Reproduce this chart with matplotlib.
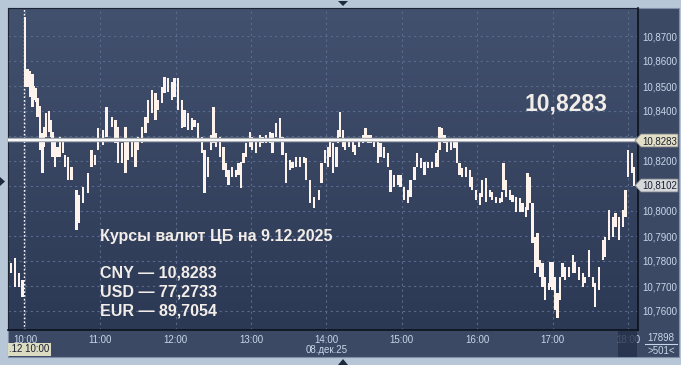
import matplotlib
matplotlib.use("Agg")
import matplotlib.pyplot as plt
import numpy as np
from matplotlib.patches import Rectangle, Polygon
from matplotlib.lines import Line2D
from matplotlib.colors import LinearSegmentedColormap

plt.rcParams['font.family'] = ['Liberation Sans', 'DejaVu Sans']

# ---------------- data (minutes after 10:00, 1-min candles) ----------------
minutes = [-11, -8, -5, -2,
           0, 2, 4, 6, 7, 9, 10, 12, 14, 15, 17, 19, 21, 22, 24, 26, 28, 30, 32, 34, 37, 41, 43, 46, 50, 53, 56, 58,
           62, 65, 69, 72, 74, 77, 80, 82, 85, 88, 90, 93, 96, 98, 101, 104, 106, 109, 111, 114, 117, 119,
           122, 125, 127, 130, 133, 135, 138, 141, 143, 146, 148, 150, 152, 155, 158, 160, 162, 165, 168, 170, 172, 174, 176, 179,
           181, 184, 187, 189, 192, 195, 197, 200, 203, 205, 208, 211, 213, 216, 219, 222, 224, 227, 230, 234, 236, 239,
           241, 243, 245, 248, 249, 251, 253, 255, 258, 261, 263, 266, 269, 271, 273, 275, 278, 281, 283, 286, 289, 291, 294, 297, 299,
           302, 305, 307, 310, 312, 315, 318, 321, 324, 327, 329, 330, 332, 334, 336, 339, 342, 344, 346, 348, 351, 354, 356, 359,
           362, 364, 367, 370, 372, 375, 378, 380, 381, 383, 386, 388, 391, 394, 396, 399, 400, 402, 404, 406, 408, 410, 412, 414, 417, 418,
           420, 422, 424, 426, 428, 430, 433, 436, 438, 441, 444, 446, 449, 452, 454, 457, 460, 462, 465, 468, 470, 473, 476, 478,
           480, 483, 485]

highs = [10.7792, 10.7812, 10.7752, 10.7724,
         10.8776, 10.8568, 10.8560, 10.8548, 10.8500, 10.8492, 10.8452, 10.8420, 10.8312, 10.8336, 10.8392, 10.8400, 10.8364, 10.8316, 10.8276, 10.8256, 10.8296, 10.8292, 10.8224, 10.8216, 10.8176, 10.8084, 10.8064, 10.8096, 10.8152, 10.8244, 10.8224, 10.8332,
         10.8324, 10.8416, 10.8376, 10.8364, 10.8336, 10.8272, 10.8336, 10.8276, 10.8292, 10.8284, 10.8296, 10.8336, 10.8376, 10.8444, 10.8484, 10.8472, 10.8444, 10.8496, 10.8536, 10.8532, 10.8516, 10.8532,
         10.8532, 10.8444, 10.8404, 10.8392, 10.8372, 10.8364, 10.8352, 10.8296, 10.8244, 10.8216, 10.8304, 10.8416, 10.8312, 10.8296, 10.8256, 10.8192, 10.8164, 10.8176, 10.8164, 10.8192, 10.8196, 10.8232, 10.8272, 10.8316,
         10.8296, 10.8276, 10.8304, 10.8296, 10.8304, 10.8316, 10.8312, 10.8352, 10.8372, 10.8296, 10.8232, 10.8204, 10.8196, 10.8216, 10.8216, 10.8216, 10.8212, 10.8124, 10.8056, 10.8084, 10.8192, 10.8244,
         10.8256, 10.8276, 10.8272, 10.8256, 10.8324, 10.8396, 10.8324, 10.8284, 10.8292, 10.8276, 10.8264, 10.8284, 10.8304, 10.8332, 10.8304, 10.8304, 10.8292, 10.8276, 10.8272, 10.8256, 10.8232, 10.8164, 10.8144, 10.8144, 10.8144,
         10.8096, 10.8084, 10.8124, 10.8176, 10.8232, 10.8212, 10.8196, 10.8196, 10.8196, 10.8232, 10.8244, 10.8336, 10.8332, 10.8304, 10.8292, 10.8276, 10.8276, 10.8276, 10.8192, 10.8172, 10.8176, 10.8164, 10.8136, 10.8084,
         10.8072, 10.8124, 10.8132, 10.8084, 10.8076, 10.8056, 10.8052, 10.8076, 10.8192, 10.8124, 10.8084, 10.8064, 10.8056, 10.8052, 10.8032, 10.8016, 10.8152, 10.8136, 10.8032, 10.7896, 10.7912, 10.7804, 10.7792, 10.7736, 10.7712, 10.7796,
         10.7796, 10.7736, 10.7672, 10.7736, 10.7792, 10.7776, 10.7776, 10.7824, 10.7796, 10.7776, 10.7752, 10.7736, 10.7844, 10.7736, 10.7712, 10.7776, 10.7884, 10.7896, 10.8004, 10.7976, 10.7992, 10.7976, 10.8004, 10.8084,
         10.8244, 10.8232, 10.8176]

lows = [10.7752, 10.7696, 10.7696, 10.7656,
        10.8496, 10.8496, 10.8456, 10.8416, 10.8444, 10.8436, 10.8376, 10.8244, 10.8152, 10.8256, 10.8296, 10.8316, 10.8296, 10.8216, 10.8176, 10.8216, 10.8216, 10.8232, 10.8176, 10.8124, 10.8124, 10.7924, 10.7952, 10.8032, 10.8072, 10.8176, 10.8184, 10.8244,
        10.8264, 10.8296, 10.8336, 10.8272, 10.8192, 10.8192, 10.8152, 10.8204, 10.8216, 10.8176, 10.8244, 10.8272, 10.8312, 10.8352, 10.8392, 10.8364, 10.8404, 10.8432, 10.8472, 10.8476, 10.8444, 10.8456,
        10.8404, 10.8332, 10.8336, 10.8324, 10.8324, 10.8336, 10.8284, 10.8232, 10.8072, 10.8136, 10.8244, 10.8272, 10.8256, 10.8216, 10.8164, 10.8136, 10.8104, 10.8136, 10.8136, 10.8144, 10.8092, 10.8192, 10.8216, 10.8256,
        10.8244, 10.8232, 10.8256, 10.8272, 10.8272, 10.8272, 10.8232, 10.8296, 10.8284, 10.8224, 10.8112, 10.8164, 10.8172, 10.8176, 10.8176, 10.8192, 10.8124, 10.8032, 10.8012, 10.8044, 10.8112, 10.8192,
        10.8176, 10.8216, 10.8152, 10.8176, 10.8272, 10.8296, 10.8256, 10.8244, 10.8256, 10.8236, 10.8224, 10.8256, 10.8272, 10.8276, 10.8272, 10.8272, 10.8256, 10.8192, 10.8216, 10.8212, 10.8176, 10.8076, 10.8096, 10.8104, 10.8096,
        10.8044, 10.8032, 10.8056, 10.8124, 10.8176, 10.8172, 10.8144, 10.8172, 10.8172, 10.8176, 10.8176, 10.8244, 10.8276, 10.8272, 10.8236, 10.8244, 10.8252, 10.8192, 10.8144, 10.8136, 10.8136, 10.8096, 10.8084, 10.8044,
        10.8024, 10.8056, 10.8036, 10.8056, 10.8044, 10.8032, 10.8032, 10.8036, 10.8084, 10.8056, 10.8044, 10.8036, 10.7996, 10.7996, 10.7996, 10.7976, 10.8004, 10.8032, 10.7872, 10.7752, 10.7776, 10.7736, 10.7696, 10.7644, 10.7684, 10.7696,
        10.7684, 10.7604, 10.7572, 10.7644, 10.7736, 10.7724, 10.7736, 10.7752, 10.7752, 10.7724, 10.7696, 10.7712, 10.7736, 10.7696, 10.7616, 10.7684, 10.7804, 10.7816, 10.7884, 10.7896, 10.7936, 10.7884, 10.7936, 10.7976,
        10.8136, 10.8152, 10.8100]

price_ticks = [10.76, 10.77, 10.78, 10.79, 10.80, 10.81, 10.82, 10.83, 10.84, 10.85, 10.86, 10.87]
hidden_ticks = [10.81, 10.83]   # covered by the price tags
hour_ticks = [0, 60, 120, 180, 240, 300, 360, 420, 480]
hour_labels = ['10:00', '11:00', '12:00', '13:00', '14:00', '15:00', '16:00', '17:00', '18:00']
cb_rate = 10.8283
last_price = 10.8102
title_text = 'Курсы валют ЦБ на 9.12.2025'
rates_text = ['CNY — 10,8283', 'USD — 77,2733', 'EUR — 89,7054']

# ---------------- figure ----------------
W, H = 681, 365
fig = plt.figure(figsize=(W / 100, H / 100), dpi=100)
fig.patch.set_facecolor('#b8c7d7')


def fx(x):
    return x / W


def fy(y):
    return 1 - y / H


# panel background (axis strips)
fig.add_artist(Rectangle((fx(8), fy(357)), (679 - 8) / W, (357 - 8) / H, transform=fig.transFigure,
                         facecolor='#3c4965', edgecolor='#7f8fa8', lw=0.8, zorder=-1))

ax = fig.add_axes([fx(8), fy(330), 630 / W, 322 / H])
ax.set_zorder(1)
cmap = LinearSegmentedColormap.from_list('bg', ['#2c3955', '#42516e'])
ax.imshow(np.linspace(0, 1, 256).reshape(-1, 1), extent=[0, 1, 0, 1], transform=ax.transAxes,
          cmap=cmap, aspect='auto', origin='lower', zorder=0)

ax.set_xlim(-13.5, 488)
ax.set_ylim(10.7524, 10.8812)

ax.set_yticks(price_ticks)
ax.set_yticklabels(['' if any(abs(v - h) < 1e-9 for h in hidden_ticks) else f'{v:.4f}'.replace('.', ',')
                    for v in price_ticks])
ax.set_xticks(hour_ticks)
ax.set_xticklabels(hour_labels)
ax.yaxis.tick_right()
ax.tick_params(axis='y', length=0, pad=3, labelsize=7, labelcolor='#c9d5e8')
ax.tick_params(axis='x', length=0, pad=3.5, labelsize=7, labelcolor='#c9d5e8')
ax.grid(True, color='#5b6b8e', linestyle=(0, (2, 3)), linewidth=0.8, zorder=1)
ax.set_axisbelow(True)

for s in ['top', 'left']:
    ax.spines[s].set_color('#1c2436')
for s in ['right', 'bottom']:
    ax.spines[s].set_color('#0c121c')
    ax.spines[s].set_linewidth(1.2)

# day separator
ax.axvline(-1, color='white', linestyle=(0, (1.2, 1.5)), lw=1, zorder=2)

mins = np.array(minutes, dtype=float)
hi = np.array(highs)
lo = np.array(lows)
ax.bar(mins, hi - lo, bottom=lo, width=1.8, color='#fdf2ec', linewidth=0, zorder=3)

ax.axhline(cb_rate, color='#a9aeb5', lw=3.2, zorder=4)
ax.axhline(cb_rate, color='#f8f8f8', lw=1.5, zorder=5)

# ---------------- texts ----------------
txt = '#f2ede8'
fig.text(fx(566), fy(104), f'{cb_rate:.4f}'.replace('.', ','), ha='center', va='center',
         fontsize=16.5, fontweight='bold', color=txt, zorder=6)
fig.text(fx(100), fy(237), title_text, ha='left', va='center', fontsize=11.5, fontweight='bold', color=txt, zorder=6)
for i, t in enumerate(rates_text):
    fig.text(fx(100), fy(273 + 19 * i), t, ha='left', va='center', fontsize=11.5, fontweight='bold', color=txt, zorder=6)


# price labels on right axis
def price_tag(y, label, face):
    pts = [(fx(635), fy(y)), (fx(641), fy(y - 6.5)), (fx(678), fy(y - 6.5)), (fx(678), fy(y + 6.5)), (fx(641), fy(y + 6.5))]
    fig.add_artist(Polygon(pts, closed=True, transform=fig.transFigure, facecolor=face,
                           edgecolor='#7d8088', lw=0.6, zorder=7))
    fig.text(fx(660), fy(y + 0.5), label, ha='center', va='center', fontsize=7, color='#1a2030', zorder=8)


price_tag(140.5, f'{cb_rate:.4f}'.replace('.', ','), '#e3dfc6')
price_tag(185.5, f'{last_price:.4f}'.replace('.', ','), '#d6d9dc')

# dark box over 18:00 label
fig.add_artist(Rectangle((fx(618), fy(357)), 19 / W, 26 / H, transform=fig.transFigure,
                         facecolor='#25304a', alpha=0.8, edgecolor='none', zorder=6))

# crosshair time box
fig.add_artist(Rectangle((fx(8), fy(356)), 43 / W, 13 / H, transform=fig.transFigure,
                         facecolor='#dcdcc2', edgecolor='none', zorder=6))
fig.text(fx(29.5), fy(349.5), '.12 10:00', ha='center', va='center', fontsize=7, color='#1a2030', zorder=7)

fig.text(fx(327), fy(350), '08.дек.25', ha='center', va='center', fontsize=7, color='#c9d5e8', zorder=6)
fig.text(fx(661), fy(338), '17898', ha='center', va='center', fontsize=7, color='#c9d5e8', zorder=6)
fig.add_artist(Line2D([fx(645), fx(677)], [fy(344), fy(344)], transform=fig.transFigure, color='#c9d5e8', lw=0.8, zorder=6))
fig.text(fx(661), fy(351), '>501<', ha='center', va='center', fontsize=7, color='#c9d5e8', zorder=6)

# small navigation triangles
tri_c = '#1e2a40'
fig.add_artist(Polygon([(fx(338), fy(1)), (fx(348), fy(1)), (fx(343), fy(6))], transform=fig.transFigure,
                       facecolor=tri_c, edgecolor='none', zorder=6))
fig.add_artist(Polygon([(fx(338), fy(365)), (fx(348), fy(365)), (fx(343), fy(359))], transform=fig.transFigure,
                       facecolor=tri_c, edgecolor='none', zorder=6))
fig.add_artist(Polygon([(fx(0), fy(177)), (fx(0), fy(186)), (fx(5), fy(181.5))], transform=fig.transFigure,
                       facecolor=tri_c, edgecolor='none', zorder=6))

fig.savefig('out.png', dpi=100, facecolor=fig.get_facecolor())
